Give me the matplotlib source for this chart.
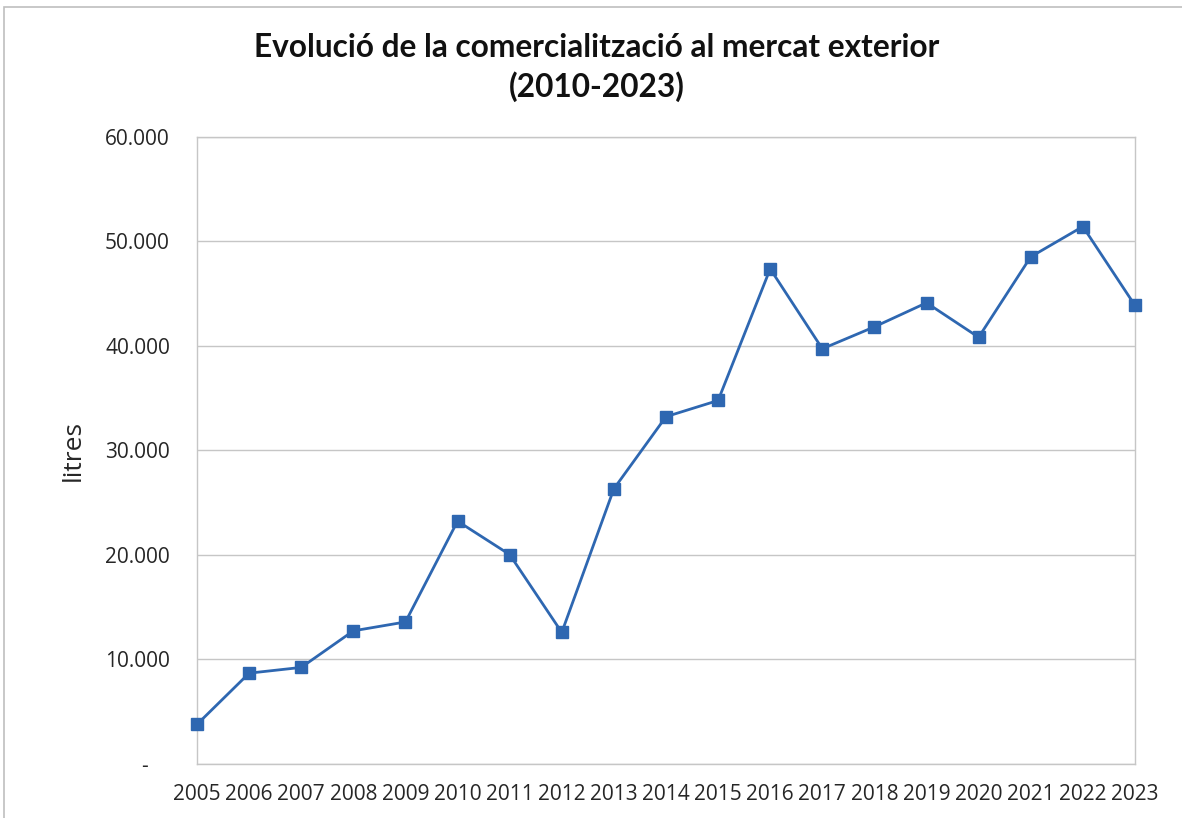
import matplotlib.pyplot as plt
from matplotlib.patches import Rectangle
from matplotlib.ticker import FuncFormatter, MultipleLocator

# --- dades (litres per any) ---
anys = [2005, 2006, 2007, 2008, 2009, 2010, 2011, 2012, 2013, 2014,
        2015, 2016, 2017, 2018, 2019, 2020, 2021, 2022, 2023]
litres = [3750, 8650, 9200, 12700, 13550, 23200, 20000, 12550, 26300, 33200,
          34750, 47350, 39700, 41800, 44100, 40800, 48500, 51400, 43850]

titol = "Evolució de la comercialització al mercat exterior\n(2010-2023)"
color = "#2E67B1"
gris = "#C6C6C6"

plt.rcParams["font.family"] = ["Open Sans", "DejaVu Sans"]

fig = plt.figure(figsize=(11.82, 8.18), dpi=100)
ax = fig.add_axes([0.1667, 0.0666, 0.7935, 0.7663])

ax.plot(anys, litres, color=color, linewidth=2.0, marker="s",
        markersize=9, markerfacecolor=color, markeredgecolor=color,
        clip_on=False, zorder=3)

ax.set_xlim(anys[0], anys[-1])
ax.set_ylim(0, 60000)
ax.yaxis.set_major_locator(MultipleLocator(10000))
ax.set_xticks(anys)
ax.set_xticklabels([str(a) for a in anys])


def fmt_miles(v, pos):
    if v == 0:
        return "-    "
    return f"{int(v):,}".replace(",", ".")


ax.yaxis.set_major_formatter(FuncFormatter(fmt_miles))
ax.grid(axis="y", color=gris, linewidth=1.0)
ax.set_axisbelow(True)
for s in ax.spines.values():
    s.set_color(gris)
    s.set_linewidth(1.0)

ax.tick_params(axis="both", length=0, labelsize=15, colors="#262626")
ax.tick_params(axis="y", pad=19.5)
ax.tick_params(axis="x", pad=15)

ax.set_ylabel("litres", fontsize=19, color="#262626", labelpad=14)

fig.text(0.505, 0.9175, titol, ha="center", va="center", fontsize=22.8,
         fontweight="bold", family=["Lato", "DejaVu Sans"],
         linespacing=1.35, color="#111111")

# marc del gràfic
fig.patches.append(Rectangle((0.003, -0.01), 1.2, 1.0 - 0.0086 + 0.01,
                             transform=fig.transFigure, fill=False,
                             edgecolor="#BFBFBF", linewidth=1.2))

fig.savefig("out.png", dpi=100)
